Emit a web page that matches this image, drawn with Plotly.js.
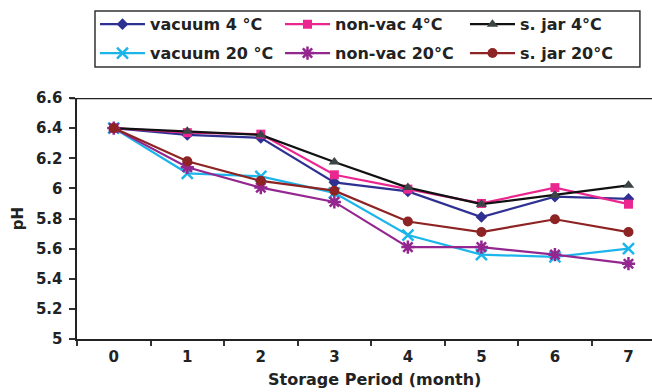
<!DOCTYPE html>
<html>
<head>
<meta charset="utf-8">
<script src="https://cdn.plot.ly/plotly-3.0.1.min.js"></script>
<style>html,body{margin:0;padding:0;background:#fff;}#chart{width:652px;height:392px;}</style>
</head>
<body>
<div id="chart"></div>
<script>
var months = ['0','1','2','3','4','5','6','7'];
var seriesNames = ['vacuum 4 °C','non-vac 4°C','s. jar 4°C','vacuum 20 °C','non-vac 20°C','s. jar 20°C'];
var vacuum4  = [6.40, 6.355, 6.335, 6.04, 5.98, 5.81, 5.945, 5.93];
var nonvac4  = [6.40, 6.37, 6.36, 6.09, 5.995, 5.90, 6.005, 5.895];
var sjar4    = [6.40, 6.38, 6.355, 6.175, 6.005, 5.895, 5.955, 6.02];
var vacuum20 = [6.40, 6.10, 6.08, 5.97, 5.69, 5.56, 5.545, 5.60];
var nonvac20 = [6.40, 6.14, 6.005, 5.91, 5.61, 5.61, 5.56, 5.50];
var sjar20   = [6.40, 6.18, 6.05, 5.985, 5.78, 5.71, 5.795, 5.71];
var yTicks = [5, 5.2, 5.4, 5.6, 5.8, 6, 6.2, 6.4, 6.6];

var values = [vacuum4, nonvac4, sjar4, vacuum20, nonvac20, sjar20];
var lineColors = ['#2E3192', '#EC268F', '#111111', '#1CB5EA', '#93278F', '#8E2323'];
var markerColors = ['#2E3192', '#EC268F', '#3C4545', '#1CB5EA', '#93278F', '#8E2323'];
var symbols = ['diamond', 'square', 'triangle-up', 'x-thin-open', 'asterisk-open', 'circle'];
var sizes = [9, 9, 10, 11, 11, 10];

var traces = values.map(function(v, i) {
  var open = symbols[i].indexOf('open') >= 0;
  return {
    x: months, y: v, name: seriesNames[i], type: 'scatter', mode: 'lines+markers',
    legend: i < 3 ? 'legend' : 'legend2',
    line: {color: lineColors[i], width: 2.2},
    marker: {symbol: symbols[i], size: sizes[i], color: markerColors[i],
             line: {color: markerColors[i], width: open ? 2.5 : 0}}
  };
});

var FAM = 'DejaVu Sans, Liberation Sans, Arial, sans-serif';
var legFont = {family: FAM, size: 16, color: '#222', weight: 'bold'};
function legendCfg(yTop) {
  return {
    orientation: 'h', x: 0.0313, xanchor: 'left', y: yTop, yanchor: 'top',
    borderwidth: 0, bgcolor: 'rgba(0,0,0,0)',
    entrywidth: 125, entrywidthmode: 'pixels', itemwidth: 45,
    font: legFont, traceorder: 'normal'
  };
}
var layout = {
  width: 652, height: 392,
  margin: {l: 77, r: 0, t: 98, b: 53},
  paper_bgcolor: '#fff', plot_bgcolor: '#fff',
  font: {family: FAM, size: 15, color: '#222'},
  showlegend: true,
  legend: legendCfg(1.3766),
  legend2: legendCfg(1.2566),
  xaxis: {
    type: 'category', range: [-0.5, 7.32], tickson: 'boundaries',
    ticks: 'outside', ticklen: 5, tickwidth: 2, tickcolor: '#333',
    showline: true, linecolor: '#222', linewidth: 2, ticklabelstandoff: 3,
    showgrid: false, zeroline: false,
    tickfont: {family: FAM, size: 15, color: '#222', weight: 'bold'}
  },
  yaxis: {
    range: [5, 6.6], tickvals: yTicks, ticks: 'outside', ticklen: 6, tickwidth: 2, tickcolor: '#333',
    showline: true, linecolor: '#222', linewidth: 2.5, ticklabelstandoff: 3,
    showgrid: false, zeroline: false,
    tickfont: {family: FAM, size: 15, color: '#222', weight: 'bold'},
    title: {text: 'pH', standoff: 9,
            font: {family: FAM, size: 15, color: '#222', weight: 'bold'}}
  },
  annotations: [{
    text: 'Storage Period (month)', xref: 'paper', yref: 'paper', x: 0.518, y: -0.17,
    xanchor: 'center', yanchor: 'middle', showarrow: false,
    font: {family: FAM, size: 16, color: '#222', weight: 'bold'}
  }],
  shapes: [
    {type: 'line', xref: 'paper', yref: 'y', x0: -0.012, x1: 1, y0: 6.6, y1: 6.6,
     line: {color: '#222', width: 2.5}},
    {type: 'rect', xref: 'paper', yref: 'paper', x0: 0.0313, x1: 0.979, y0: 1.1286, y1: 1.361,
     line: {color: '#333', width: 1.5}, fillcolor: 'rgba(0,0,0,0)'}
  ]
};

Plotly.newPlot('chart', traces, layout, {displayModeBar: false, staticPlot: true});
</script>
</body>
</html>
